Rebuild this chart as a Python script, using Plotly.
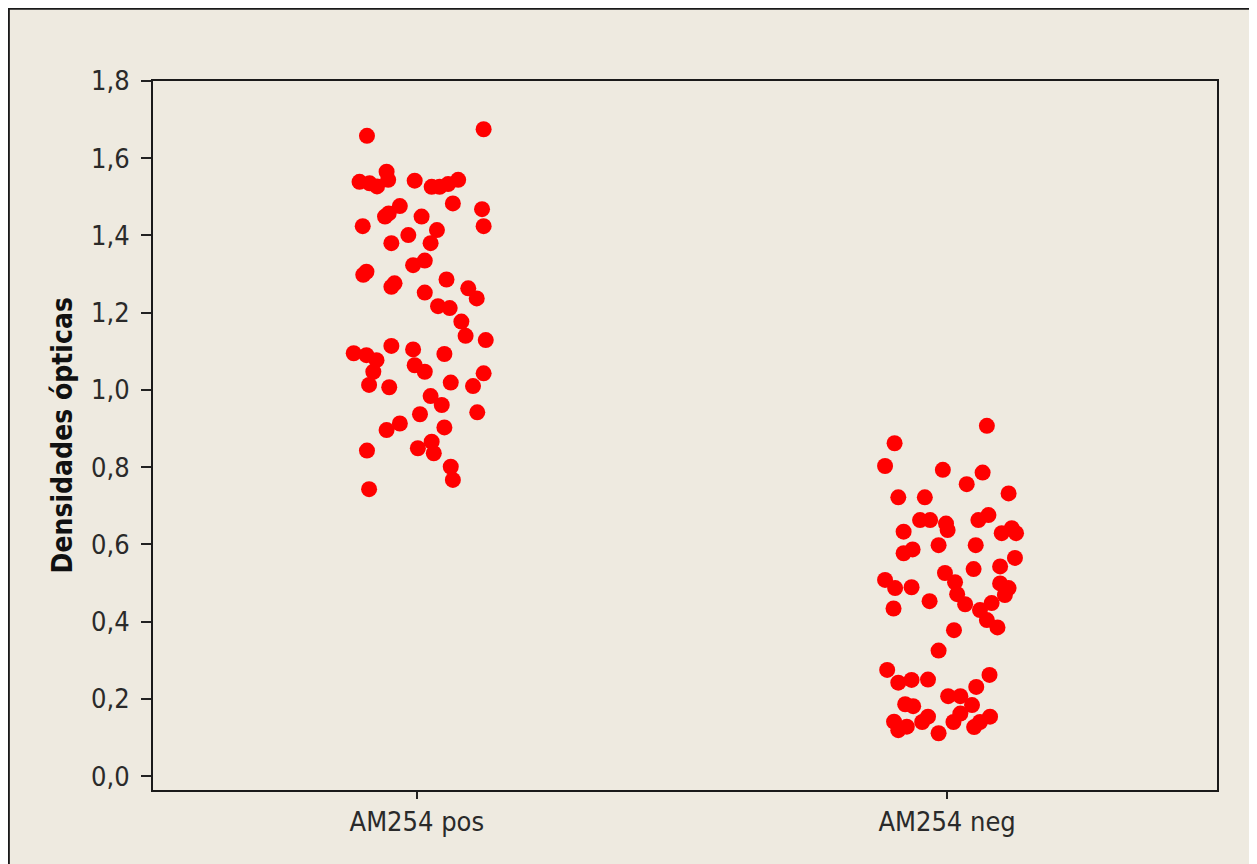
import plotly.graph_objects as go

categories = ["AM254 pos", "AM254 neg"]

pos_values = [1.658, 1.675, 1.539, 1.535, 1.527, 1.565, 1.544, 1.542, 1.526, 1.526,
              1.533, 1.544, 1.483, 1.468, 1.424, 1.424, 1.449, 1.457, 1.476, 1.449,
              1.414, 1.401, 1.380, 1.380, 1.323, 1.335, 1.298, 1.306, 1.267, 1.276,
              1.252, 1.286, 1.263, 1.237, 1.217, 1.212, 1.177, 1.140, 1.129, 1.095,
              1.090, 1.077, 1.047, 1.013, 1.114, 1.105, 1.064, 1.047, 1.093, 1.007,
              1.019, 1.010, 1.043, 0.984, 0.961, 0.937, 0.942, 0.913, 0.896, 0.903,
              0.843, 0.849, 0.866, 0.836, 0.801, 0.767, 0.743]
pos_jitter = [-0.094, 0.126, -0.108, -0.089, -0.075, -0.057, -0.054, -0.004, 0.028, 0.043,
              0.059, 0.078, 0.068, 0.123, 0.126, -0.102, -0.060, -0.053, -0.032, 0.009,
              0.038, -0.016, -0.048, 0.026, -0.007, 0.015, -0.101, -0.095, -0.048, -0.042,
              0.015, 0.056, 0.097, 0.113, 0.040, 0.062, 0.084, 0.092, 0.130, -0.119,
              -0.095, -0.076, -0.082, -0.090, -0.048, -0.007, -0.004, 0.015, 0.052, -0.052,
              0.064, 0.106, 0.126, 0.026, 0.047, 0.006, 0.114, -0.032, -0.057, 0.052,
              -0.094, 0.002, 0.028, 0.032, 0.064, 0.068, -0.090]

neg_values = [0.907, 0.862, 0.803, 0.793, 0.786, 0.756, 0.732, 0.722, 0.722, 0.663,
              0.663, 0.654, 0.637, 0.663, 0.676, 0.633, 0.629, 0.642, 0.629, 0.577,
              0.587, 0.598, 0.598, 0.565, 0.536, 0.543, 0.508, 0.487, 0.489, 0.526,
              0.502, 0.471, 0.445, 0.499, 0.487, 0.469, 0.434, 0.453, 0.430, 0.448,
              0.404, 0.385, 0.378, 0.325, 0.275, 0.242, 0.249, 0.250, 0.262, 0.231,
              0.207, 0.207, 0.184, 0.186, 0.181, 0.162, 0.140, 0.154, 0.140, 0.141,
              0.119, 0.128, 0.154, 0.140, 0.127, 0.111]
neg_jitter = [0.075, -0.099, -0.117, -0.008, 0.067, 0.037, 0.116, -0.092, -0.042, -0.051,
              -0.032, -0.002, 0.001, 0.059, 0.078, -0.082, 0.103, 0.122, 0.130, -0.082,
              -0.065, -0.016, 0.054, 0.128, 0.050, 0.100, -0.117, -0.098, -0.067, -0.004,
              0.015, 0.019, 0.034, 0.100, 0.116, 0.109, -0.101, -0.033, 0.062, 0.084,
              0.075, 0.095, 0.013, -0.016, -0.113, -0.092, -0.067, -0.036, 0.080, 0.055,
              0.002, 0.025, 0.047, -0.079, -0.064, 0.025, 0.012, -0.036, -0.047, -0.100,
              -0.092, -0.076, 0.081, 0.062, 0.051, -0.016]

y_ticks = [0.0, 0.2, 0.4, 0.6, 0.8, 1.0, 1.2, 1.4, 1.6, 1.8]
y_tick_labels = ["0,0", "0,2", "0,4", "0,6", "0,8", "1,0", "1,2", "1,4", "1,6", "1,8"]
y_title = "Densidades ópticas"

groups = [pos_values, neg_values]
jitters = [pos_jitter, neg_jitter]

# figure is placed at page offset (8, 8) by the default body margin
W, H = 1257, 864
ML, MT = 145, 73
PR, PB = 1209, 782          # plot right / bottom edge in figure pixels
MR, MB = W - PR, H - PB
pw, ph = PR - ML, PB - MT

FONT = "DejaVu Sans Condensed, DejaVu Sans, Tahoma, sans-serif"
BEIGE = "#EEEAE0"

fig = go.Figure()
for i, (vals, jit) in enumerate(zip(groups, jitters)):
    fig.add_trace(go.Scatter(
        x=[i + j for j in jit],
        y=vals,
        mode="markers",
        marker=dict(color="#FF0000", size=16, line=dict(width=0)),
        name=categories[i],
        showlegend=False,
        hoverinfo="y",
    ))


def px_x(p):
    return (p - ML) / pw


def px_y(p):
    return (PB - p) / ph


fig.add_shape(type="rect", xref="paper", yref="paper",
              x0=px_x(0.6), y0=px_y(H + 20), x1=px_x(W + 20), y1=px_y(0.6),
              fillcolor=BEIGE, line=dict(color="#1a1a1a", width=2.5), layer="below")

fig.add_annotation(text=y_title, xref="paper", yref="paper",
                   x=px_x(54), y=0.5, xanchor="center", yanchor="middle",
                   textangle=-90, showarrow=False,
                   font=dict(family=FONT, size=28, color="#111111", weight="bold"))

fig.update_layout(
    width=W, height=H,
    margin=dict(l=ML, r=MR, t=MT, b=MB, pad=0),
    paper_bgcolor=BEIGE,
    plot_bgcolor="white",
    font=dict(family=FONT, size=27, color="#2a2a2a"),
    xaxis=dict(
        range=[-0.4975, 1.509],
        tickmode="array", tickvals=[0, 1], ticktext=categories,
        ticks="outside", ticklen=7, tickwidth=2, tickcolor="#222222",
        showline=True, linecolor="#1a1a1a", linewidth=2, mirror=True,
        showgrid=False, zeroline=False,
        tickfont=dict(family=FONT, size=27, color="#2a2a2a"),
    ),
    yaxis=dict(
        range=[-0.036, 1.8],
        tickmode="array", tickvals=y_ticks, ticktext=y_tick_labels,
        ticks="outside", ticklen=10, tickwidth=2, tickcolor="#222222",
        showline=True, linecolor="#1a1a1a", linewidth=2, mirror=True,
        showgrid=False, zeroline=False,
        ticklabelstandoff=6,
        tickfont=dict(family=FONT, size=27, color="#2a2a2a"),
    ),
)

fig.write_html("out.html")
